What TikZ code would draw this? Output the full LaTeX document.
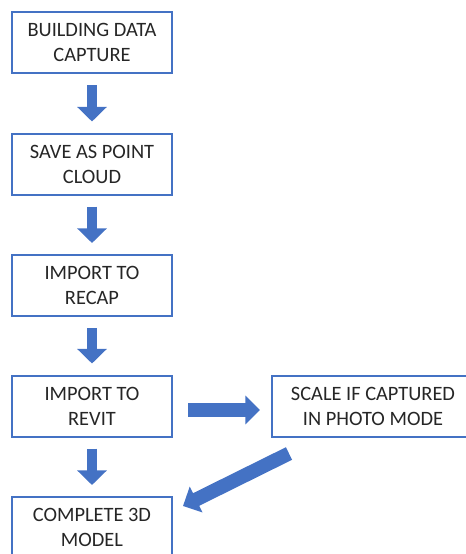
\documentclass[tikz,border=0pt]{standalone}
\usepackage{xcolor}
\usepackage{fontspec}
\setmainfont{Carlito}
\usepackage{tikz}
\usetikzlibrary{arrows.meta}
\usetikzlibrary{calc}

\definecolor{boxblue}{HTML}{4472C4}
\definecolor{txtgray}{HTML}{262626}

\tikzset{
  stepbox/.style={draw=boxblue, line width=1.5pt, fill=white, text=txtgray,
    minimum width=120pt, minimum height=45.75pt, inner sep=0pt, align=center,
    font=\fontsize{15.3}{18.75}\selectfont},
  flow/.style={draw=boxblue, line width=8pt,
    -{Triangle[width=21.75pt,length=11pt]}},
  wideflow/.style={flow, line width=10.5pt,
    -{Triangle[width=21pt,length=11pt]}}
}

\begin{document}
\begin{tikzpicture}[x=0.75pt,y=0.75pt,yscale=-1,xscale=1]
\useasboundingbox (0,0) rectangle (466,554);

%Shape: Rectangle
\node [stepbox] (capture) at (92,42.5) {BUILDING DATA\\CAPTURE};
%Shape: Rectangle
\node [stepbox] (cloud) at (92,164) {SAVE AS POINT\\CLOUD};
%Shape: Rectangle
\node [stepbox] (recap) at (92,285.5) {IMPORT TO\\RECAP};
%Shape: Rectangle
\node [stepbox] (revit) at (92,406) {IMPORT TO\\REVIT};
%Shape: Rectangle
\node [stepbox] (model) at (92,527.5) {COMPLETE 3D\\MODEL};
%Shape: Rectangle
\node [stepbox, minimum width=151.5pt] (scale) at (373,406) {SCALE IF CAPTURED\\IN PHOTO MODE};

%Block Arrows
\draw [flow, shorten <=8.25pt, shorten >=8.25pt] (capture) -- (cloud);
\draw [flow, shorten <=8.25pt, shorten >=8.25pt] (cloud) -- (recap);
\draw [flow, shorten <=8.25pt, shorten >=8.25pt] (recap) -- (revit);
\draw [flow, shorten <=8.25pt, shorten >=8.25pt] (revit) -- (model);
\draw [wideflow, shorten <=11.25pt, shorten >=8.25pt] ([yshift=3pt]revit.east) -- ([yshift=3pt]scale.west);
\draw [wideflow] ($(scale.south west)+(18,16)$) -- ($(model.north east)+(10,10)$);

\end{tikzpicture}
\end{document}
